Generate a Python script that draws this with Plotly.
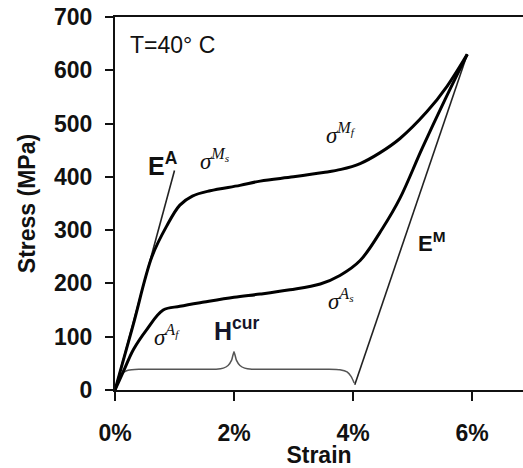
import plotly.graph_objects as go

# Loading branch (strain %, stress MPa)
load_strain = [0, 0.3, 0.62, 0.87, 1.09, 1.3, 1.6, 2.1, 2.44, 3.0, 3.5, 3.8, 4.12, 4.45, 4.79, 5.24, 5.58, 5.92]
load_stress = [0, 120, 250, 308, 347, 364, 374, 384, 392, 400, 408, 414, 425, 445, 472, 522, 570, 630]

# Unloading branch
unload_strain = [5.92, 5.55, 5.16, 4.79, 4.5, 4.12, 3.78, 3.45, 2.94, 2.44, 2.0, 1.5, 1.09, 0.81, 0.53, 0.31, 0.13, 0]
unload_stress = [630, 546, 453, 360, 304, 243, 215, 199, 188, 180, 174, 165, 157, 150, 113, 76, 32, 0]

# Elastic modulus lines
ea_strain = [0, 1.0]
ea_stress = [0, 412]
em_strain = [4.03, 5.92]
em_stress = [10, 630]

# Brace marking H^cur
brace_strain = [0.03, 0.1, 0.22, 0.4, 1.7, 1.82, 1.9, 1.96, 2.0, 2.04, 2.1, 2.18, 2.3, 3.6, 3.78, 3.9, 3.97, 4.02]
brace_stress = [15, 30, 37, 39, 39, 41, 46, 56, 72, 56, 46, 41, 39, 39, 38, 34, 25, 13]

x_ticks = [0, 2, 4, 6]
x_ticktext = ["0%", "2%", "4%", "6%"]
y_ticks = [0, 100, 200, 300, 400, 500, 600, 700]

fig = go.Figure()
fig.add_trace(go.Scatter(x=brace_strain, y=brace_stress, mode="lines",
                         line=dict(color="#555555", width=1.5, shape="spline", smoothing=0.5),
                         cliponaxis=False, showlegend=False))
fig.add_trace(go.Scatter(x=ea_strain, y=ea_stress, mode="lines",
                         line=dict(color="#222222", width=1.6), cliponaxis=False, showlegend=False))
fig.add_trace(go.Scatter(x=em_strain, y=em_stress, mode="lines",
                         line=dict(color="#222222", width=1.6), cliponaxis=False, showlegend=False))
fig.add_trace(go.Scatter(x=load_strain, y=load_stress, mode="lines",
                         line=dict(color="#000000", width=3, shape="spline", smoothing=1.0),
                         cliponaxis=False, showlegend=False))
fig.add_trace(go.Scatter(x=unload_strain, y=unload_stress, mode="lines",
                         line=dict(color="#000000", width=3, shape="spline", smoothing=1.0),
                         cliponaxis=False, showlegend=False))

sans = "Liberation Sans, Arial, sans-serif"
serif = "Liberation Serif, Times New Roman, serif"

def ann(x, y, text, size, family, color="#111111"):
    fig.add_annotation(x=x, y=y, xref="x", yref="y", text=text, showarrow=False,
                       font=dict(family=family, size=size, color=color),
                       xanchor="center", yanchor="middle")

ann(0.8, 425, "<b>E</b><sup><b>A</b></sup>", 25, sans)
ann(1.68, 432, "<i>σ</i><sup><i>M<sub>s</sub></i></sup>", 23, serif)
ann(3.8, 482, "<i>σ</i><sup><i>M<sub>f</sub></i></sup>", 23, serif)
ann(5.33, 278, "<b>E</b><sup><b>M</b></sup>", 22, sans)
ann(3.8, 170, "<i>σ</i><sup><i>A<sub>s</sub></i></sup>", 23, serif)
ann(0.88, 102, "<i>σ</i><sup><i>A<sub>f</sub></i></sup>", 23, serif)
ann(2.05, 115, "<b>H</b><sup><b>cur</b></sup>", 25, sans, color="#15152a")

fig.add_annotation(x=0.0, y=1.0, xref="paper", yref="paper", text="T=40° C",
                   xshift=13, yshift=-13, showarrow=False, xanchor="left", yanchor="top",
                   font=dict(family=sans, size=23, color="#111111"))

fig.update_layout(
    width=523, height=468,
    margin=dict(l=115, r=0, t=17, b=74),
    paper_bgcolor="white", plot_bgcolor="white",
    font=dict(family=sans, color="#111111"),
    xaxis=dict(range=[0, 6.857], tickvals=x_ticks, ticktext=x_ticktext,
               showline=True, linecolor="#111111", linewidth=2, mirror=True,
               ticks="outside", ticklen=9, tickwidth=2, tickcolor="#111111",
               showgrid=False, zeroline=False, ticklabelstandoff=12,
               tickfont=dict(family=sans, size=23, weight="bold"),
               title=dict(text="<b>Strain</b>", font=dict(family=sans, size=23), standoff=6)),
    yaxis=dict(range=[0, 700], tickvals=y_ticks,
               showline=True, linecolor="#111111", linewidth=2, mirror=False,
               ticks="outside", ticklen=8, tickwidth=2, tickcolor="#111111",
               showgrid=False, zeroline=False, ticklabelstandoff=8,
               tickfont=dict(family=sans, size=23, weight="bold"),
               title=dict(text="<b>Stress (MPa)</b>", font=dict(family=sans, size=23), standoff=12)),
)

fig.write_html("out.html")
